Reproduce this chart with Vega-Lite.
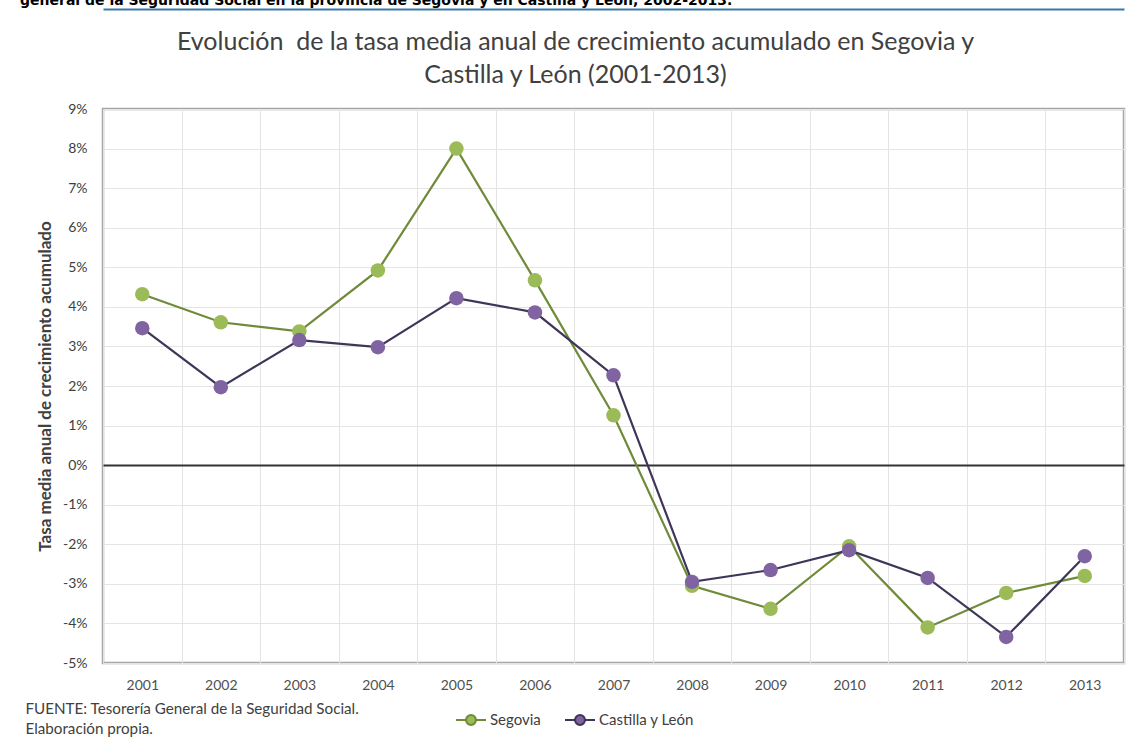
{
  "$schema": "https://vega.github.io/schema/vega-lite/v6.json",
  "width": 1021,
  "height": 554,
  "autosize": {"type": "none"},
  "padding": {"left": 103, "top": 109, "right": 13, "bottom": 82},
  "background": "white",
  "title": {
    "text": "general de la Seguridad Social en la provincia de Segovia y en Castilla y León, 2002-2013.",
    "font": "DejaVu Sans", "fontSize": 14, "fontWeight": "bold", "color": "#000000",
    "anchor": "start", "frame": "bounds", "dx": -5, "dy": 14, "offset": 4, "baseline": "alphabetic"
  },
  "data": {"values": [
    {"year": "2001", "serie": "Segovia", "value": 4.32},
    {"year": "2002", "serie": "Segovia", "value": 3.61},
    {"year": "2003", "serie": "Segovia", "value": 3.38},
    {"year": "2004", "serie": "Segovia", "value": 4.92},
    {"year": "2005", "serie": "Segovia", "value": 8.0},
    {"year": "2006", "serie": "Segovia", "value": 4.67},
    {"year": "2007", "serie": "Segovia", "value": 1.26},
    {"year": "2008", "serie": "Segovia", "value": -3.05},
    {"year": "2009", "serie": "Segovia", "value": -3.63},
    {"year": "2010", "serie": "Segovia", "value": -2.05},
    {"year": "2011", "serie": "Segovia", "value": -4.1},
    {"year": "2012", "serie": "Segovia", "value": -3.23},
    {"year": "2013", "serie": "Segovia", "value": -2.8},
    {"year": "2001", "serie": "Castilla y León", "value": 3.46},
    {"year": "2002", "serie": "Castilla y León", "value": 1.97},
    {"year": "2003", "serie": "Castilla y León", "value": 3.16},
    {"year": "2004", "serie": "Castilla y León", "value": 2.98},
    {"year": "2005", "serie": "Castilla y León", "value": 4.22},
    {"year": "2006", "serie": "Castilla y León", "value": 3.86},
    {"year": "2007", "serie": "Castilla y León", "value": 2.27},
    {"year": "2008", "serie": "Castilla y León", "value": -2.95},
    {"year": "2009", "serie": "Castilla y León", "value": -2.65},
    {"year": "2010", "serie": "Castilla y León", "value": -2.15},
    {"year": "2011", "serie": "Castilla y León", "value": -2.85},
    {"year": "2012", "serie": "Castilla y León", "value": -4.34},
    {"year": "2013", "serie": "Castilla y León", "value": -2.3}
  ]},
  "config": {
    "font": "Lato",
    "view": {"stroke": "#a6a6a6", "strokeWidth": 2.5},
    "axis": {
      "labelFont": "Lato", "labelFontSize": 14, "labelColor": "#505050",
      "domain": false, "ticks": false, "gridColor": "#e4e4e4", "gridWidth": 1
    },
    "axisY": {"labelOverlap": false},
    "axisQuantitative": {"labelOverlap": false},
    "legend": {
      "orient": "none", "legendX": 352, "legendY": 595, "direction": "horizontal",
      "title": null, "labelFont": "Lato", "labelFontSize": 15, "labelColor": "#404040",
      "symbolSize": 900, "symbolStrokeWidth": 2, "labelOffset": 3, "columnPadding": 20,
      "symbolType": "M-1,0L-0.33,0M0.33,0L1,0M0.33,0A0.33,0.33,0,1,1,-0.33,0A0.33,0.33,0,1,1,0.33,0Z"
    }
  },
  "resolve": {"axis": {"x": "independent"}},
  "encoding": {
    "y": {
      "field": "value", "type": "quantitative",
      "scale": {"domain": [-5, 9], "nice": false, "zero": false},
      "axis": {
        "values": [-5, -4, -3, -2, -1, 0, 1, 2, 3, 4, 5, 6, 7, 8, 9],
        "labelExpr": "datum.value + '%'", "labelPadding": 16, "grid": true, "labelOverlap": false,
        "labelFontSize": 14, "labelColor": "#404040",
        "gridColor": {"condition": {"test": "datum.value === 0", "value": "#333333"}, "value": "#e4e4e4"},
        "gridWidth": {"condition": {"test": "datum.value === 0", "value": 2}, "value": 1},
        "title": "Tasa media anual de crecimiento acumulado",
        "titleFont": "Lato", "titleFontSize": 17, "titleFontWeight": "bold", "titleColor": "#404040",
        "titleX": -58, "titleY": 277, "titleAngle": -90, "titleBaseline": "middle", "titleAlign": "center"
      }
    }
  },
  "layer": [
    {
      "mark": {"type": "line", "strokeWidth": 2.2},
      "encoding": {
        "x": {
          "field": "year", "type": "ordinal", "scale": {"paddingInner": 0, "paddingOuter": 0},
          "axis": {
            "orient": "bottom", "tickBand": "extent", "grid": true, "labelAngle": 0, "labelPadding": 15,
            "title": ["FUENTE: Tesorería General de la Seguridad Social.", "Elaboración propia."],
            "titleFont": "Lato", "titleFontSize": 15.2, "titleFontWeight": "normal", "titleColor": "#404040",
            "titleX": -78, "titleY": 38, "titleAlign": "left", "titleBaseline": "top", "titleLineHeight": 20
          }
        },
        "stroke": {
          "field": "serie", "type": "nominal",
          "scale": {"domain": ["Segovia", "Castilla y León"], "range": ["#6f8b3a", "#3f3558"]},
          "legend": {"symbolType": "M-1,0L-0.33,0M0.33,0L1,0M0.33,0A0.33,0.33,0,1,1,-0.33,0A0.33,0.33,0,1,1,0.33,0Z"}
        }
      }
    },
    {
      "mark": {"type": "point", "filled": true, "size": 210, "opacity": 1},
      "encoding": {
        "x": {
          "field": "year", "type": "ordinal",
          "axis": {
            "orient": "top", "labels": false, "grid": false, "domain": true, "offset": 100,
            "domainColor": "#3a78a8", "domainWidth": 2,
            "title": ["Evolución \u00a0de la tasa media anual de crecimiento acumulado en Segovia y", "Castilla y León (2001-2013)"],
            "titleFont": "Lato", "titleFontSize": 25, "titleFontWeight": "normal", "titleColor": "#404040",
            "titleX": 472, "titleY": 40, "titleAlign": "center", "titleBaseline": "alphabetic", "titleLineHeight": 33
          }
        },
        "fill": {
          "field": "serie", "type": "nominal",
          "scale": {"domain": ["Segovia", "Castilla y León"], "range": ["#9bbb59", "#8064a2"]},
          "legend": {"symbolType": "M-1,0L-0.33,0M0.33,0L1,0M0.33,0A0.33,0.33,0,1,1,-0.33,0A0.33,0.33,0,1,1,0.33,0Z"}
        }
      }
    }
  ]
}
